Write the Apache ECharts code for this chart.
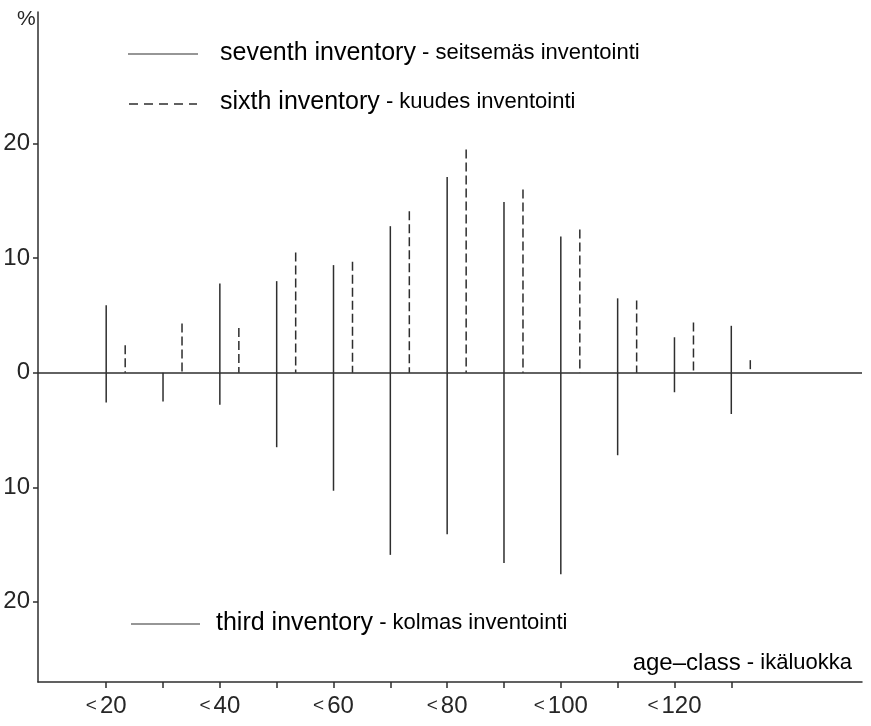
<!DOCTYPE html>
<html>
<head>
<meta charset="utf-8">
<title>Age-class distribution by inventory</title>
<script src="https://cdn.jsdelivr.net/npm/echarts@6/dist/echarts.min.js"></script>
<style>
  html, body { margin: 0; padding: 0; background: #fff; }
  #chart { width: 871px; height: 726px; }
</style>
</head>
<body>
<div id="chart"></div>
<script>
// age classes (upper limit of class, years)
const ages = [20, 30, 40, 50, 60, 70, 80, 90, 100, 110, 120, 130];
const labelAges = [20, 40, 60, 80, 100, 120];
const yTicks = [-20, -10, 0, 10, 20];

// share of area, %
const seventh = [5.9, null, 7.8, 8.0, 9.4, 12.8, 17.1, 14.9, 11.9, 6.5, 3.1, 4.1];
const sixth = [2.4, 4.3, 3.9, 10.5, 9.7, 14.1, 19.5, 16.0, 12.5, 6.3, 4.4, 1.1];
const third = [2.6, 2.5, 2.8, 6.5, 10.3, 15.9, 14.1, 16.6, 17.6, 7.2, 1.7, 3.6];

const INK = '#2e2e2e';
const TEXT = '#262626';
const FONT = '"Liberation Sans", Arial, Helvetica, sans-serif';

// one vertical stem per class, drawn from the tip back to 0 so dashes start at the tip
function stem(offsetPx, dash, sign) {
  return function (params, api) {
    const x = api.value(0);
    const v = api.value(1);
    const p0 = api.coord([x, 0]);
    const p1 = api.coord([x, sign * v]);
    return {
      type: 'line',
      shape: { x1: p1[0] + offsetPx, y1: p1[1], x2: p0[0] + offsetPx, y2: p0[1] },
      style: { stroke: INK, lineWidth: 1.5, lineDash: dash }
    };
  };
}

function pairs(vals) {
  return ages.map((a, i) => [a, vals[i]]).filter(d => d[1] != null);
}

const legendRich = {
  a: { fontSize: 25, fontFamily: FONT, color: TEXT },
  b: { fontSize: 22, fontFamily: FONT, color: TEXT, padding: [0, 0, 1, 0] }
};

const chart = echarts.init(document.getElementById('chart'));
chart.setOption({
  animation: false,
  backgroundColor: '#fff',
  grid: { left: 38, right: 9, top: 12, bottom: 44 },
  xAxis: {
    type: 'value',
    min: 8,
    max: 153,
    splitLine: { show: false },
    axisLine: { onZero: false, lineStyle: { color: INK, width: 1.5 } },
    axisTick: { customValues: ages, length: 6, lineStyle: { color: INK, width: 1.5 } },
    axisLabel: {
      customValues: labelAges,
      margin: 12,
      formatter: v => '{s|<}{n|' + v + '}',
      rich: {
        s: { fontSize: 19, fontFamily: FONT, color: TEXT, padding: [0, 3, 1, 0] },
        n: { fontSize: 24, fontFamily: FONT, color: TEXT }
      }
    }
  },
  yAxis: {
    type: 'value',
    min: -27,
    max: 31.5,
    splitLine: { show: false },
    axisLine: { show: true, lineStyle: { color: INK, width: 1.5 } },
    axisTick: { show: true, customValues: yTicks, length: 5, lineStyle: { color: INK, width: 1.5 } },
    axisLabel: {
      customValues: yTicks,
      margin: 8,
      fontSize: 24,
      fontFamily: FONT,
      color: TEXT,
      formatter: v => String(Math.abs(v))
    }
  },
  series: [
    {
      name: 'seventh inventory',
      type: 'custom',
      renderItem: stem(0, null, 1),
      data: pairs(seventh),
      markLine: {
        silent: true,
        symbol: 'none',
        label: { show: false },
        lineStyle: { color: INK, width: 1.5, type: 'solid' },
        data: [{ yAxis: 0 }]
      }
    },
    {
      name: 'sixth inventory',
      type: 'custom',
      renderItem: stem(19, [9, 4], 1),
      data: pairs(sixth)
    },
    {
      name: 'third inventory',
      type: 'custom',
      renderItem: stem(0, null, -1),
      data: pairs(third)
    }
  ],
  graphic: [
    { type: 'text', left: 17, top: 9,
      style: { text: '%', fontSize: 21, fontFamily: FONT, fill: TEXT } },
    { type: 'line', shape: { x1: 128, y1: 54, x2: 198, y2: 54 },
      style: { stroke: INK, lineWidth: 1.2 } },
    { type: 'text', x: 220, y: 53,
      style: { text: '{a|seventh inventory}{b| - seitsemäs inventointi}', rich: legendRich,
        verticalAlign: 'middle' } },
    { type: 'line', shape: { x1: 129, y1: 104, x2: 197, y2: 104 },
      style: { stroke: INK, lineWidth: 1.5, lineDash: [9, 6] } },
    { type: 'text', x: 220, y: 102,
      style: { text: '{a|sixth inventory}{b| - kuudes inventointi}', rich: legendRich,
        verticalAlign: 'middle' } },
    { type: 'line', shape: { x1: 131, y1: 624, x2: 200, y2: 624 },
      style: { stroke: INK, lineWidth: 1.2 } },
    { type: 'text', x: 216, y: 623,
      style: { text: '{a|third inventory}{b| - kolmas inventointi}', rich: legendRich,
        verticalAlign: 'middle' } },
    { type: 'text', x: 852, y: 663,
      style: { text: '{a|age–class}{b| - ikäluokka}', align: 'right', verticalAlign: 'middle',
        rich: {
          a: { fontSize: 24, fontFamily: FONT, color: TEXT },
          b: { fontSize: 22, fontFamily: FONT, color: TEXT }
        } } }
  ]
});
</script>
</body>
</html>
